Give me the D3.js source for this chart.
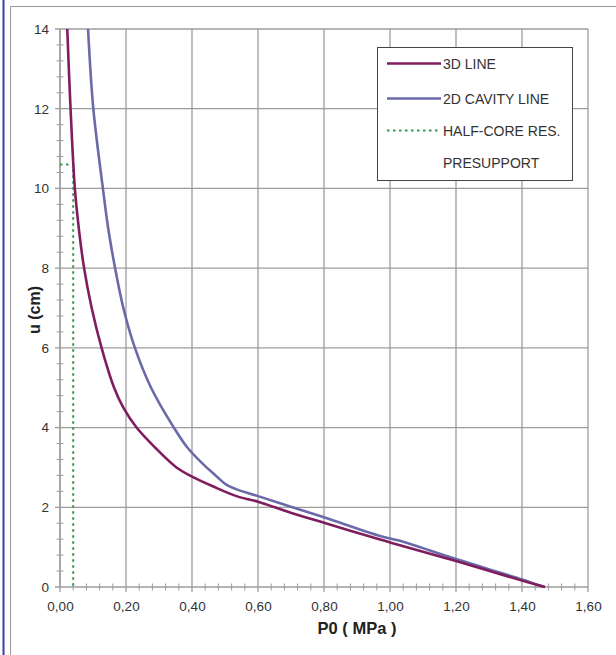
<!DOCTYPE html>
<html>
<head>
<meta charset="utf-8">
<script src="https://cdn.jsdelivr.net/npm/d3@7/dist/d3.min.js"></script>
<style>
  html, body { margin: 0; padding: 0; background: #fff; }
  svg { display: block; }
  text { font-family: Arial, "Liberation Sans", sans-serif; }
</style>
</head>
<body>
<svg id="chart" width="616" height="655"></svg>
<script>
// ---- data ----
const xTicks = [0, 0.2, 0.4, 0.6, 0.8, 1.0, 1.2, 1.4, 1.6];
const yTicks = [0, 2, 4, 6, 8, 10, 12, 14];

const u3d  = [14, 12, 10, 9, 8, 7, 6, 5, 4.5, 4, 3.5, 3, 2.77, 2.52, 2.28, 2.14, 1.87, 1.61, 1.19, 1.05, 0.65, 0.16, 0];
const p03d = [0.022, 0.032, 0.045, 0.057, 0.073, 0.096, 0.126, 0.164, 0.192, 0.232, 0.288, 0.353, 0.40, 0.465, 0.535, 0.60, 0.697, 0.80, 0.97, 1.03, 1.20, 1.40, 1.47];

const u2d  = [14, 12, 10, 9, 8, 7, 6, 5, 4, 3.5, 3, 2.85, 2.56, 2.45, 2.28, 2.02, 1.75, 1.28, 1.16, 0.70, 0.19, 0];
const p02d = [0.085, 0.101, 0.13, 0.146, 0.167, 0.192, 0.227, 0.276, 0.345, 0.386, 0.444, 0.465, 0.505, 0.535, 0.60, 0.697, 0.80, 0.97, 1.03, 1.20, 1.40, 1.467];

const uHalf  = [10.6, 10.6, 0];
const p0Half = [0, 0.04, 0.04];

const legendLabels = ["3D LINE", "2D CAVITY LINE", "HALF-CORE RES.", "PRESUPPORT"];
const colors = { d3: "#7f1d5e", d2: "#6a6aa8", half: "#2f9a48" };

// ---- layout ----
const svg = d3.select("#chart");
const pLeft = 60, pRight = 588, pTop = 29, pBottom = 587;
const x = d3.scaleLinear().domain([0, 1.6]).range([pLeft, pRight]);
const y = d3.scaleLinear().domain([0, 14]).range([pBottom, pTop]);

// frame
svg.append("line").attr("x1", 3.5).attr("x2", 3.5).attr("y1", 0).attr("y2", 655)
  .attr("stroke", "#3b3ea0").attr("stroke-width", 2);
svg.append("path").attr("d", "M10.5,655 V6.5 H616")
  .attr("fill", "none").attr("stroke", "#9a9a9a").attr("stroke-width", 1);

const gridColor = "#9c9c9c";
// gridlines
svg.append("g").selectAll("line").data(xTicks).join("line")
  .attr("x1", d => x(d)).attr("x2", d => x(d))
  .attr("y1", pTop).attr("y2", pBottom + 5)
  .attr("stroke", gridColor).attr("stroke-width", 1.3);
svg.append("g").selectAll("line").data(yTicks).join("line")
  .attr("x1", pLeft - 5).attr("x2", pRight)
  .attr("y1", d => y(d)).attr("y2", d => y(d))
  .attr("stroke", gridColor).attr("stroke-width", 1.3);

// minor ticks
const xMinor = d3.range(0, 161, 4).map(v => v / 100).filter(v => Math.round(v * 100) % 20 !== 0);
const yMinor = d3.range(0, 141, 4).map(v => v / 10).filter(v => Math.round(v * 10) % 20 !== 0);
svg.append("g").selectAll("line").data(xMinor).join("line")
  .attr("x1", d => x(d)).attr("x2", d => x(d))
  .attr("y1", pBottom - 3.5).attr("y2", pBottom + 3.5)
  .attr("stroke", gridColor).attr("stroke-width", 1);
svg.append("g").selectAll("line").data(yMinor).join("line")
  .attr("x1", pLeft - 3.5).attr("x2", pLeft + 3.5)
  .attr("y1", d => y(d)).attr("y2", d => y(d))
  .attr("stroke", gridColor).attr("stroke-width", 1);

// axis line
svg.append("line").attr("x1", pLeft).attr("x2", pLeft).attr("y1", pTop).attr("y2", pBottom)
  .attr("stroke", gridColor).attr("stroke-width", 1.3);

// tick labels via d3 axes (domain/ticks hidden, labels kept)
const fmt = d => d3.format(".2f")(d).replace(".", ",");
const xAxis = svg.append("g").attr("transform", `translate(0,${pBottom})`)
  .call(d3.axisBottom(x).tickValues(xTicks).tickFormat(fmt).tickSize(0).tickPadding(14));
xAxis.select(".domain").remove();
xAxis.attr("font-size", 13.5).attr("font-family", "Arial, 'Liberation Sans', sans-serif");
xAxis.selectAll("text").attr("fill", "#333");

const yAxis = svg.append("g").attr("transform", `translate(${pLeft},0)`)
  .call(d3.axisLeft(y).tickValues(yTicks).tickFormat(d3.format("d")).tickSize(0).tickPadding(11));
yAxis.select(".domain").remove();
yAxis.attr("font-size", 13.5).attr("font-family", "Arial, 'Liberation Sans', sans-serif");
yAxis.selectAll("text").attr("fill", "#333");

// axis titles
svg.append("text").attr("x", 357).attr("y", 634).attr("text-anchor", "middle")
  .attr("font-size", 16.5).attr("font-weight", "bold").attr("fill", "#222").text("P0 ( MPa )");
svg.append("text").attr("transform", "translate(40,310) rotate(-90)").attr("text-anchor", "middle")
  .attr("font-size", 16).attr("font-weight", "bold").attr("fill", "#222").text("u (cm)");

// series
const line = d3.line().x(d => x(d[0])).y(d => y(d[1])).curve(d3.curveCatmullRom.alpha(0.5));
const s2d = p02d.map((p, i) => [p, u2d[i]]);
const s3d = p03d.map((p, i) => [p, u3d[i]]);
const sHalf = p0Half.map((p, i) => [p, uHalf[i]]);

svg.append("path").datum(sHalf).attr("d", d3.line().x(d => x(d[0])).y(d => y(d[1])))
  .attr("fill", "none").attr("stroke", colors.half).attr("stroke-width", 2)
  .attr("stroke-dasharray", "2.5,3.5");
svg.append("path").datum(s2d).attr("d", line)
  .attr("fill", "none").attr("stroke", colors.d2).attr("stroke-width", 2.6);
svg.append("path").datum(s3d).attr("d", line)
  .attr("fill", "none").attr("stroke", colors.d3).attr("stroke-width", 2.6);

// legend
const lg = svg.append("g");
lg.append("rect").attr("x", 377.5).attr("y", 47.5).attr("width", 195).attr("height", 133)
  .attr("fill", "#fff").attr("stroke", "#444").attr("stroke-width", 1);
const rowsY = [63.5, 98.5, 130.5, 163];
const legStyles = [
  { c: colors.d3, dash: null, w: 2.6 },
  { c: colors.d2, dash: null, w: 2.6 },
  { c: colors.half, dash: "2.5,3.5", w: 2 },
  null
];
legendLabels.forEach((lab, i) => {
  const st = legStyles[i];
  if (st) {
    lg.append("line").attr("x1", 387).attr("x2", 441).attr("y1", rowsY[i]).attr("y2", rowsY[i])
      .attr("stroke", st.c).attr("stroke-width", st.w).attr("stroke-dasharray", st.dash);
  }
  lg.append("text").attr("x", 443).attr("y", rowsY[i]).attr("dy", "0.36em")
    .attr("font-size", 14).attr("fill", "#333").text(lab);
});
</script>
</body>
</html>
